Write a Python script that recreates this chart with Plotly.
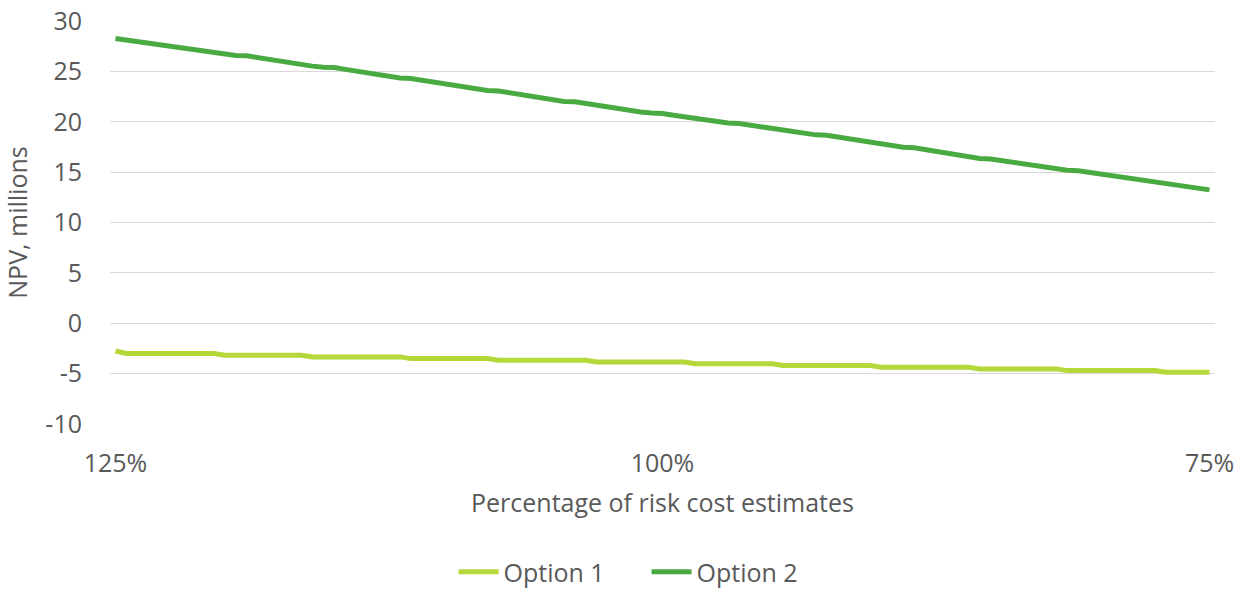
import plotly.graph_objects as go

# Percentage of risk cost estimates, 125% down to 75% in 0.5% steps
categories = [f"{v/2:g}%" for v in range(250, 149, -1)]
tick_labels = ["125%", "100%", "75%"]
y_tick_vals = [-10, -5, 0, 5, 10, 15, 20, 25, 30]
y_tick_text = ["-10", "-5", "0", "5", "10", "15", "20", "25", "30"]

option1 = (
    [-2.75] + [-3.0] * 9 + [-3.17] * 8 + [-3.34] * 9 + [-3.51] * 8 + [-3.68] * 9
    + [-3.85] * 9 + [-4.02] * 8 + [-4.19] * 9 + [-4.36] * 9 + [-4.53] * 8
    + [-4.70] * 9 + [-4.87] * 5
)

option2 = [
    28.26, 28.10, 27.95, 27.78, 27.60, 27.55, 27.38, 27.20, 27.03, 26.86,
    26.70, 26.58, 26.54, 26.36, 26.18, 26.00, 25.85, 25.68, 25.52, 25.42,
    25.38, 25.20, 25.02, 24.85, 24.67, 24.50, 24.34, 24.30, 24.12, 23.94,
    23.76, 23.59, 23.42, 23.25, 23.10, 23.06, 22.88, 22.70, 22.53, 22.36,
    22.18, 22.02, 21.98, 21.80, 21.63, 21.46, 21.30, 21.13, 20.97, 20.86,
    20.82, 20.64, 20.48, 20.32, 20.16, 19.99, 19.87, 19.83, 19.66, 19.50,
    19.34, 19.18, 19.02, 18.86, 18.70, 18.66, 18.48, 18.30, 18.13, 17.96,
    17.79, 17.62, 17.46, 17.41, 17.23, 17.05, 16.87, 16.70, 16.52, 16.35,
    16.31, 16.14, 15.97, 15.81, 15.65, 15.49, 15.33, 15.18, 15.14, 14.98,
    14.82, 14.66, 14.50, 14.34, 14.18, 14.14, 13.96, 13.78, 13.60, 13.42,
    13.24,
]

series_names = ["Option 1", "Option 2"]
colors = ["#B4D839", "#4AAA42"]

fig = go.Figure()
for name, vals, col in zip(series_names, [option1, option2], colors):
    fig.add_trace(go.Scatter(
        x=categories, y=vals, name=name, mode="lines",
        line=dict(color=col, width=5),
    ))

font_family = "Open Sans, Segoe UI, sans-serif"
grey = "#595959"
fs = 25

fig.update_layout(
    width=1246, height=595,
    margin=dict(l=110, r=31, t=21, b=171),
    paper_bgcolor="white", plot_bgcolor="white",
    font=dict(family=font_family, size=fs, color=grey),
    showlegend=True,
    legend=dict(
        orientation="h", xref="container", yref="container",
        x=0.364, xanchor="left", y=0.0, yanchor="bottom",
        font=dict(size=fs, color=grey), itemwidth=40,
        entrywidth=138, entrywidthmode="pixels",
    ),
)

fig.update_xaxes(
    type="category", range=[-0.5, len(categories) - 0.5],
    tickmode="array", tickvals=tick_labels, ticktext=tick_labels,
    showgrid=False, showline=False, zeroline=False, ticks="",
    ticklabelstandoff=22, automargin=False, ticklabeloverflow="allow",
    title=dict(text="Percentage of risk cost estimates", standoff=16,
               font=dict(size=fs, color=grey)),
)

fig.update_yaxes(
    range=[-10, 30], tickmode="array", tickvals=y_tick_vals, ticktext=y_tick_text,
    showgrid=True, gridcolor="#D9D9D9", gridwidth=1.3,
    zeroline=False, showline=False, ticks="",
    ticklabelstandoff=27, automargin=False, ticklabeloverflow="allow",
    title=dict(text="NPV, millions", standoff=36,
               font=dict(size=fs, color=grey)),
)

# remove the default page margin so the figure fills the window exactly
fig.write_html(
    "out.html",
    config={"displayModeBar": False},
    post_script="document.body.style.margin='0';",
)
